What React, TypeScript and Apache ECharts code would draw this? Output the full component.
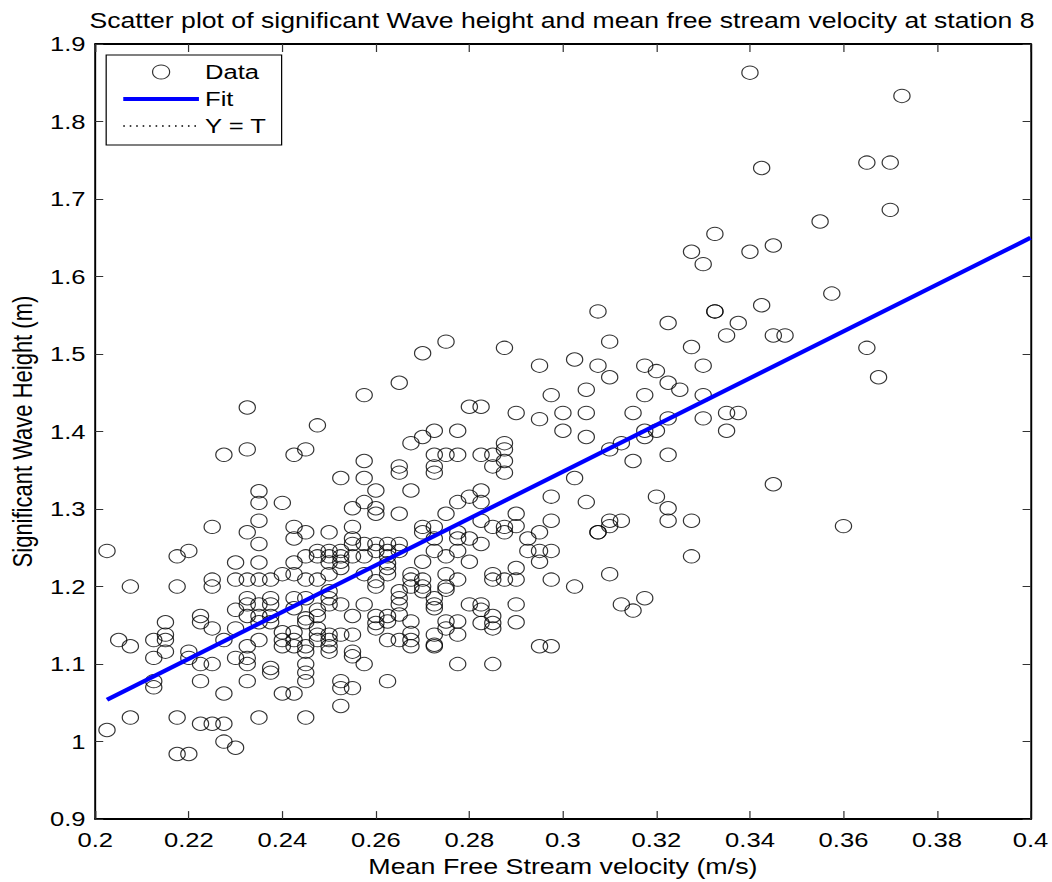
import React, { useEffect, useRef } from "react";
import * as echarts from "echarts";

// ---- data: [x (m/s), significant wave heights (m) at that x] ----
const colsA: [number, number[]][] = [
  [0.2025, [1.246, 1.015]],
  [0.205, [1.131]],
  [0.2075, [1.2, 1.123, 1.031]],
  [0.2125, [1.131, 1.108, 1.078, 1.07]],
  [0.215, [1.154, 1.138, 1.131, 1.116]],
  [0.2175, [1.239, 1.2, 1.031, 0.984]],
  [0.22, [1.246, 1.116, 1.108, 0.984]],
  [0.2225, [1.162, 1.154, 1.1, 1.078, 1.023]],
  [0.225, [1.277, 1.209, 1.2, 1.146, 1.1, 1.023]],
  [0.2275, [1.37, 1.131, 1.062, 1.023, 1.0]],
  [0.23, [1.231, 1.209, 1.17, 1.146, 1.108, 0.992]],
  [0.2325, [1.431, 1.377, 1.27, 1.209, 1.185, 1.177, 1.162, 1.123, 1.108, 1.1, 1.078]],
  [0.235, [1.323, 1.308, 1.285, 1.255, 1.231, 1.209, 1.177, 1.162, 1.154, 1.131, 1.031]],
  [0.2375, [1.209, 1.185, 1.177, 1.162, 1.154, 1.095, 1.089]],
];

const colsB: [number, number[]][] = [
  [0.24, [1.308, 1.216, 1.141, 1.131, 1.123, 1.062]],
  [0.2425, [1.37, 1.277, 1.262, 1.231, 1.216, 1.185, 1.172, 1.141, 1.131, 1.123, 1.062]],
  [0.245, [1.377, 1.27, 1.239, 1.209, 1.185, 1.159, 1.154, 1.123, 1.116, 1.1, 1.089, 1.078, 1.031]],
  [0.2475, [1.408, 1.246, 1.239, 1.209, 1.17, 1.162, 1.146, 1.138, 1.131]],
  [0.25, [1.27, 1.246, 1.239, 1.231, 1.216, 1.194, 1.185, 1.177, 1.138, 1.131, 1.123, 1.116]],
  [0.2525, [1.34, 1.246, 1.239, 1.232, 1.224, 1.177, 1.138, 1.078, 1.069, 1.046]],
  [0.255, [1.301, 1.277, 1.262, 1.255, 1.239, 1.162, 1.138, 1.116, 1.11, 1.069]],
  [0.2575, [1.447, 1.362, 1.34, 1.309, 1.255, 1.239, 1.216, 1.177, 1.1]],
  [0.26, [1.324, 1.301, 1.294, 1.255, 1.246, 1.207, 1.2, 1.162, 1.153, 1.146]],
  [0.2625, [1.255, 1.246, 1.239, 1.23, 1.224, 1.216, 1.162, 1.155, 1.131, 1.078]],
];

const colsC: [number, number[]][] = [
  [0.265, [1.463, 1.355, 1.347, 1.294, 1.255, 1.246, 1.194, 1.185, 1.177, 1.164, 1.131]],
  [0.2675, [1.385, 1.324, 1.216, 1.209, 1.2, 1.155, 1.14, 1.131, 1.123]],
  [0.27, [1.501, 1.393, 1.277, 1.27, 1.232, 1.209, 1.2, 1.194]],
  [0.2725, [1.401, 1.37, 1.355, 1.347, 1.277, 1.262, 1.246, 1.185, 1.177, 1.172, 1.138, 1.125, 1.123]],
  [0.275, [1.516, 1.37, 1.294, 1.239, 1.216, 1.2, 1.196, 1.155, 1.146]],
  [0.2775, [1.401, 1.37, 1.309, 1.27, 1.262, 1.246, 1.209, 1.155, 1.138, 1.1]],
  [0.28, [1.432, 1.316, 1.262, 1.232, 1.177]],
  [0.2825, [1.432, 1.37, 1.324, 1.309, 1.285, 1.255, 1.177, 1.17, 1.153]],
  [0.285, [1.37, 1.355, 1.277, 1.216, 1.209, 1.162, 1.153, 1.146, 1.1]],
  [0.2875, [1.508, 1.385, 1.377, 1.362, 1.347, 1.277, 1.27, 1.209]],
];

const colsD: [number, number[]][] = [
  [0.29, [1.424, 1.294, 1.278, 1.224, 1.209, 1.177, 1.154]],
  [0.2925, [1.262, 1.246]],
  [0.295, [1.485, 1.416, 1.27, 1.246, 1.232, 1.123]],
  [0.2975, [1.447, 1.316, 1.285, 1.246, 1.209, 1.123]],
  [0.3, [1.424, 1.401]],
  [0.3025, [1.493, 1.34, 1.2]],
  [0.305, [1.454, 1.424, 1.393, 1.309]],
  [0.3075, [1.555, 1.485, 1.27, 1.27]],
  [0.31, [1.516, 1.47, 1.377, 1.285, 1.278, 1.216]],
  [0.3125, [1.385, 1.285, 1.177]],
  [0.315, [1.424, 1.362, 1.169]],
  [0.3175, [1.485, 1.447, 1.401, 1.393, 1.185]],
  [0.32, [1.478, 1.401, 1.316]],
  [0.3225, [1.54, 1.463, 1.417, 1.37, 1.301, 1.285]],
  [0.325, [1.454]],
  [0.3275, [1.632, 1.509, 1.285, 1.239]],
  [0.33, [1.616, 1.485, 1.447, 1.417]],
  [0.3325, [1.655, 1.555, 1.555]],
  [0.335, [1.524, 1.424, 1.401]],
  [0.3375, [1.54, 1.424]],
  [0.34, [1.863, 1.632]],
  [0.3425, [1.74, 1.563]],
  [0.345, [1.64, 1.524, 1.332]],
  [0.3475, [1.524]],
  [0.355, [1.671]],
  [0.3575, [1.578]],
  [0.36, [1.278]],
  [0.365, [1.747, 1.508]],
  [0.3675, [1.47]],
  [0.37, [1.747, 1.686]],
  [0.3725, [1.833]],
];

// fitted line end points (x, y)
const fitLine: [number, number][] = [
  [0.2025, 1.054],
  [0.4, 1.65],
];

const xRange = { min: 0.2, max: 0.4, interval: 0.02 };
const yRange = { min: 0.9, max: 1.9, interval: 0.1 };

const titleText =
  "Scatter plot of significant Wave height and mean free stream velocity at station 8";
const xName = "Mean Free Stream velocity (m/s)";
const yName = "Significant Wave Height (m)";
const legendNames = ["Data", "Fit", "Y = T"];

// ---- layout ----
const INNER_W = 862;
const H = 882;
const STRETCH = 1052 / INNER_W;
const FONT = '"Liberation Sans", Arial, Helvetica, sans-serif';

function buildPoints(): [number, number][] {
  const out: [number, number][] = [];
  [colsA, colsB, colsC, colsD].forEach((cols) =>
    cols.forEach(([x, ys]) => ys.forEach((y) => out.push([x, y])))
  );
  return out;
}

function buildOption(): any {
  const lineCol = "#000";
  const tickCol = "#333";
  const xBase = {
    type: "value",
    min: xRange.min,
    max: xRange.max,
    interval: xRange.interval,
    splitLine: { show: false },
    axisLine: { show: true, onZero: false, lineStyle: { color: lineCol, width: 1.9 } },
    axisTick: { show: true, inside: true, length: 8, lineStyle: { color: tickCol, width: 1 } },
  };
  const yBase = {
    type: "value",
    min: yRange.min,
    max: yRange.max,
    interval: yRange.interval,
    splitLine: { show: false },
    axisLine: { show: true, onZero: false, lineStyle: { color: lineCol, width: 1.6 } },
    axisTick: { show: true, inside: true, length: 6.5, lineStyle: { color: tickCol, width: 1 } },
  };
  return {
    animation: false,
    backgroundColor: "#fff",
    title: {
      text: titleText,
      left: 460.5,
      top: 9,
      textAlign: "center",
      padding: 0,
      textStyle: { fontSize: 21.8, fontWeight: "normal", color: "#000", fontFamily: FONT },
    },
    grid: { left: 76.2, right: 17.2, top: 44, bottom: 60.5, containLabel: false },
    legend: {
      orient: "vertical",
      left: 87,
      top: 55,
      padding: [6, 12, 8, 12],
      itemGap: 5,
      itemWidth: 62,
      itemHeight: 14,
      backgroundColor: "#fff",
      borderColor: "#000",
      borderWidth: 1,
      selectedMode: false,
      textStyle: { fontSize: 21, color: "#000", fontFamily: FONT, lineHeight: 22 },
      data: [
        {
          name: legendNames[0],
          icon: "circle",
          itemStyle: { color: "rgba(0,0,0,0)", borderColor: "#000", borderWidth: 1 },
        },
        {
          name: legendNames[1],
          itemStyle: { opacity: 0 },
          lineStyle: { width: 4, color: "#0000ff" },
        },
        {
          name: legendNames[2],
          itemStyle: { opacity: 0 },
          lineStyle: { width: 1.3, color: "#000", type: [1.3, 4] },
        },
      ],
    },
    xAxis: [
      {
        ...xBase,
        position: "bottom",
        axisLabel: { show: true, fontSize: 21, color: "#000", fontFamily: FONT, margin: 10 },
        name: xName,
        nameLocation: "middle",
        nameGap: 35,
        nameTextStyle: { fontSize: 22, color: "#000", fontFamily: FONT },
      },
      { ...xBase, position: "top", axisLabel: { show: false } },
    ],
    yAxis: [
      {
        ...yBase,
        position: "left",
        axisLabel: { show: true, fontSize: 21, color: "#000", fontFamily: FONT, margin: 8 },
        name: yName,
        nameLocation: "middle",
        nameGap: 47,
        nameTextStyle: { fontSize: 22, color: "#000", fontFamily: FONT },
      },
      { ...yBase, position: "right", axisLabel: { show: false } },
    ],
    series: [
      {
        name: legendNames[0],
        type: "scatter",
        xAxisIndex: 0,
        yAxisIndex: 0,
        data: buildPoints(),
        symbol: "circle",
        symbolSize: 13.3,
        silent: true,
        z: 2,
        itemStyle: { color: "rgba(0,0,0,0)", borderColor: "#000", borderWidth: 1 },
        emphasis: { disabled: true },
      },
      {
        name: legendNames[1],
        type: "line",
        xAxisIndex: 0,
        yAxisIndex: 0,
        data: fitLine,
        symbol: "none",
        silent: true,
        z: 3,
        lineStyle: { color: "#0000ff", width: 4 },
        itemStyle: { color: "#0000ff" },
        emphasis: { disabled: true },
      },
      {
        name: legendNames[2],
        type: "line",
        xAxisIndex: 0,
        yAxisIndex: 0,
        data: [],
        symbol: "none",
        silent: true,
        lineStyle: { color: "#000", width: 1.3, type: [1.3, 4] },
        itemStyle: { color: "#000" },
      },
    ],
  };
}

export default function App() {
  const ref = useRef<HTMLDivElement>(null);
  useEffect(() => {
    if (!ref.current) return;
    const chart = echarts.init(ref.current, null, { renderer: "svg" });
    chart.setOption(buildOption());
    return () => chart.dispose();
  }, []);
  return (
    <div
      ref={ref}
      style={{
        position: "absolute",
        left: 0,
        top: 0,
        width: INNER_W,
        height: H,
        transform: `scaleX(${STRETCH})`,
        transformOrigin: "0 0",
        background: "#fff",
      }}
    />
  );
}
